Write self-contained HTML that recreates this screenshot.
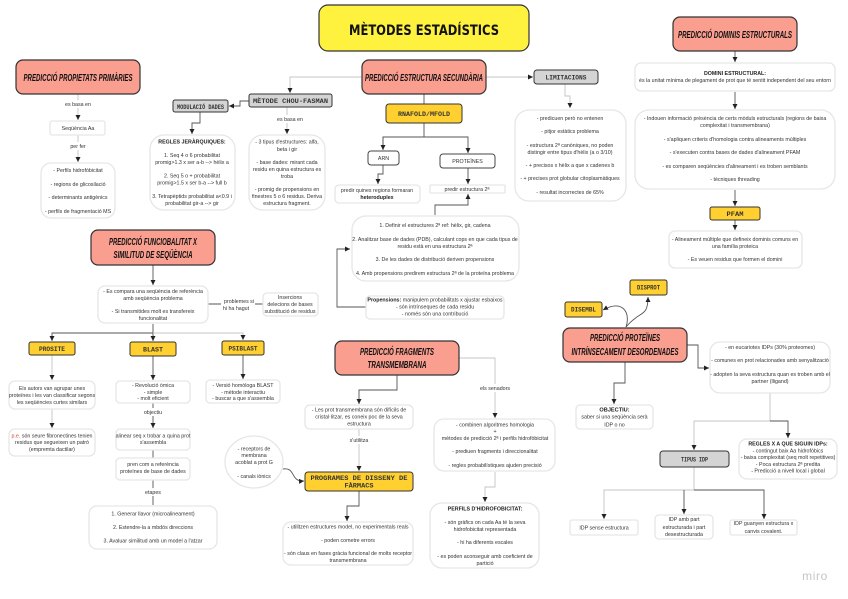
<!DOCTYPE html>
<html><head><meta charset="utf-8"><style>
html,body{margin:0;padding:0;background:#fff}
svg{display:block}
text{font-family:"Liberation Sans",sans-serif;font-size:5.3px;fill:#333;text-anchor:middle}
.b{font-weight:bold;fill:#222}
.h{font-family:"Liberation Sans Narrow","Liberation Sans",sans-serif;font-weight:bold;font-style:italic;font-size:10.5px;fill:#111}
.m{font-family:"Liberation Mono",monospace;font-weight:bold;font-size:6.5px;fill:#333}
.box{fill:#fff;stroke:#e6e6e6;stroke-width:1.3}
.p{fill:#fa9f90;stroke:#333;stroke-width:1.2}
.y{fill:#ffd02f;stroke:#333;stroke-width:1}
.g{fill:#d4d4d4;stroke:#333;stroke-width:1}
.w{fill:#fff;stroke:#444;stroke-width:1}
.l{fill:none;stroke:#555;stroke-width:.9}
.c{fill:none;stroke:#c4c4c4;stroke-width:.9}
.lb{fill:#fff;stroke:none}
</style></head><body>
<svg width="848" height="599" viewBox="0 0 848 599" xmlns="http://www.w3.org/2000/svg">
<defs><marker id="a" markerWidth="6" markerHeight="6" refX="5" refY="2.5" orient="auto" markerUnits="userSpaceOnUse"><path d="M0 0L5 2.5L0 5z" fill="#222"/></marker></defs>

<g marker-end="url(#a)">
<path class="c" d="M78 94V120" marker-end="url(#a)"/>
<path class="c" d="M78 135V162" marker-end="url(#a)"/>
<path class="c" d="M362 77H290V93" marker-end="url(#a)"/>
<path class="l" d="M249 101H240V106H229" marker-end="url(#a)"/>
<path class="l" d="M200 112V123H192V134" marker-end="url(#a)"/>
<path class="c" d="M287 107V134" marker-end="url(#a)"/>
<path class="c" d="M486 77H533" marker-end="url(#a)"/>
<path class="c" d="M565 84V96H570V108" marker-end="url(#a)"/>
<path class="l" d="M383 150V137H468V153" marker-start="none" marker-end="url(#a)"/>
<path class="l" d="M383 137V150" marker-end="url(#a)"/>
<path class="l" d="M383 165V174H378V184" marker-end="url(#a)"/>
<path class="l" d="M468 168V184" marker-end="url(#a)"/>
<path class="l" d="M435 215V205H468V194" marker-end="url(#a)"/>
<path class="l" d="M366 307H337V249H350" marker-end="url(#a)"/>
<path class="l" d="M735 51V62" marker-end="url(#a)"/>
<path class="l" d="M735 92V109" marker-end="url(#a)"/>
<path class="l" d="M735 190V206" marker-end="url(#a)"/>
<path class="l" d="M735 220V230" marker-end="url(#a)"/>
<path class="l" d="M153 265V285" marker-end="url(#a)"/>
<path class="l" d="M153 324V341" marker-end="url(#a)"/>
<path class="l" d="M153 333H52V341" marker-end="url(#a)"/>
<path class="c" d="M153 333H243V340" marker-end="url(#a)"/>
<path class="c" d="M52 355V380" marker-end="url(#a)"/>
<path class="l" d="M153 356V380" marker-end="url(#a)"/>
<path class="l" d="M243 355V379" marker-end="url(#a)"/>
<path class="c" d="M52 409V428" marker-end="url(#a)"/>
<path class="l" d="M153 403V428" marker-end="url(#a)"/>
<path class="l" d="M397 375V390H359V404" marker-end="url(#a)"/>
<path class="c" d="M459 358H495V418" marker-end="url(#a)"/>
<path class="c" d="M359 429V471" marker-end="url(#a)"/>
<path class="l" d="M283 469C296 467 290 482 304 481" marker-end="url(#a)"/>
<path class="l" d="M359 491V506H347V521" marker-end="url(#a)"/>
<path class="c" d="M495 472V487H485V502" marker-end="url(#a)"/>
<path class="l" d="M626 327C631 312 622 299 603 310" marker-end="url(#a)"/>
<path class="l" d="M626 327C640 310 648 318 648 297" marker-end="url(#a)"/>
<path class="l" d="M687 345H698V368H709" marker-end="url(#a)"/>
<path class="l" d="M625 362V383H614V404" marker-end="url(#a)"/>
<path class="c" d="M770 393V421H694V450" marker-end="url(#a)"/>
<path class="l" d="M770 421H788V438" marker-end="url(#a)"/>
<path class="c" d="M694 467V490H604V519" marker-end="url(#a)"/>
<path class="l" d="M694 490H764V519" marker-end="url(#a)"/>
<path class="l" d="M684 490V514" marker-end="url(#a)"/>
</g>
<path class="l" stroke-width="1.2" d="M424 94V104M424 123V137"/>
<path class="l" d="M208 304H263M153 450V458M153 480V505"/>

<!-- title -->
<rect x="319" y="5" width="210" height="46" rx="9" fill="#fff23f" stroke="#333" stroke-width="1.2"/>
<text x="424" y="35" style="font-family:'DejaVu Sans',sans-serif;font-weight:bold;font-size:14px;fill:#111" textLength="150" lengthAdjust="spacingAndGlyphs">MÈTODES ESTADÍSTICS</text>

<!-- pink -->
<rect class="p" x="16" y="60" width="124" height="34" rx="7"/>
<text class="h" x="78" y="81" textLength="109" lengthAdjust="spacingAndGlyphs">PREDICCIÓ PROPIETATS PRIMÀRIES</text>
<rect class="p" x="362" y="60" width="124" height="34" rx="7"/>
<text class="h" x="424" y="81" textLength="118" lengthAdjust="spacingAndGlyphs">PREDICCIÓ ESTRUCTURA SECUNDÀRIA</text>
<rect class="p" x="673" y="17" width="124" height="34" rx="7"/>
<text class="h" x="735" y="38" textLength="114" lengthAdjust="spacingAndGlyphs">PREDICCIÓ DOMINIS ESTRUCTURALS</text>
<rect class="p" x="91" y="230" width="124" height="35" rx="7"/>
<text class="h" x="153" y="245" textLength="88" lengthAdjust="spacingAndGlyphs">PREDICCIÓ FUNCIOBALITAT X</text>
<text class="h" x="153" y="258" textLength="79" lengthAdjust="spacingAndGlyphs">SIMILITUD DE SEQÜÈNCIA</text>
<rect class="p" x="335" y="341" width="124" height="34" rx="7"/>
<text class="h" x="397" y="355" textLength="74" lengthAdjust="spacingAndGlyphs">PREDICCIÓ FRAGMENTS</text>
<text class="h" x="397" y="368" textLength="59" lengthAdjust="spacingAndGlyphs">TRANSMEMBRANA</text>
<rect class="p" x="563" y="328" width="124" height="34" rx="7"/>
<text class="h" x="625" y="341" textLength="70" lengthAdjust="spacingAndGlyphs">PREDICCIÓ PROTEÏNES</text>
<text class="h" x="625" y="355" textLength="107" lengthAdjust="spacingAndGlyphs">INTRÍNSECAMENT DESORDENADES</text>

<!-- gray / yellow / outlined -->
<rect class="g" x="173" y="100" width="55" height="12" rx="2"/><text class="m" x="200.500" y="109" textLength="47" lengthAdjust="spacingAndGlyphs">MODULACIÓ DADES</text>
<rect class="g" x="249" y="94" width="83" height="13" rx="2"/><text class="m" x="290.500" y="103" textLength="75" lengthAdjust="spacingAndGlyphs">MÈTODE CHOU-FASMAN</text>
<rect class="g" x="534" y="70" width="64" height="14" rx="3"/><text class="m" x="566" y="79.500" textLength="41" lengthAdjust="spacingAndGlyphs">LIMITACIONS</text>
<rect class="g" x="660" y="451" width="69" height="16" rx="3"/><text class="m" x="694.500" y="461.500" textLength="27" lengthAdjust="spacingAndGlyphs">TIPUS IDP</text>
<rect class="y" x="386" y="104" width="76" height="19" rx="3"/><text class="m" x="424" y="116" textLength="52" lengthAdjust="spacingAndGlyphs">RNAFOLD/MFOLD</text>
<rect class="y" x="710" y="207" width="50" height="13" rx="2"/><text class="m" x="735" y="216" textLength="17" lengthAdjust="spacingAndGlyphs">PFAM</text>
<rect class="y" x="29" y="342" width="46" height="13" rx="2"/><text class="m" x="52" y="351" textLength="26" lengthAdjust="spacingAndGlyphs">PROSITE</text>
<rect class="y" x="130" y="342" width="46" height="14" rx="2"/><text class="m" x="153" y="351.500" textLength="20" lengthAdjust="spacingAndGlyphs">BLAST</text>
<rect class="y" x="222" y="341" width="42" height="14" rx="2"/><text class="m" x="243" y="350.500" textLength="29" lengthAdjust="spacingAndGlyphs">PSIBLAST</text>
<rect class="y" x="305" y="472" width="108" height="19" rx="3"/>
<text class="m" x="359" y="480" textLength="97" lengthAdjust="spacingAndGlyphs">PROGRAMES DE DISSENY DE</text>
<text class="m" x="359" y="487.500" textLength="29" lengthAdjust="spacingAndGlyphs">FÀRMACS</text>
<rect class="y" x="565" y="302" width="37" height="15" rx="2"/><text class="m" x="583.500" y="311.500" textLength="25" lengthAdjust="spacingAndGlyphs">DISEMBL</text>
<rect class="y" x="630" y="280" width="37" height="15" rx="2"/><text class="m" x="648.500" y="289.500" textLength="23" lengthAdjust="spacingAndGlyphs">DISPROT</text>
<rect class="w" x="368" y="151" width="31" height="14" rx="3"/><text x="383.500" y="160">ARN</text>
<rect class="w" x="440" y="154" width="55" height="14" rx="3"/><text x="467.500" y="163">PROTEÏNES</text>

<!-- text boxes -->
<rect class="box" x="50" y="121" width="55" height="14" rx="2"/>
<rect class="box" x="41" y="163" width="74" height="55" rx="10"/>
<rect class="box" x="150" y="135" width="85" height="75" rx="14"/>
<rect class="box" x="249" y="135" width="76" height="75" rx="14"/>
<rect class="box" x="335" y="185" width="85" height="18" rx="4"/>
<rect class="box" x="430" y="185" width="75" height="8" rx="1"/>
<rect class="box" x="515" y="110" width="111" height="91" rx="14"/>
<rect class="box" x="635" y="63" width="200" height="28" rx="6"/>
<rect class="box" x="635" y="110" width="200" height="79" rx="14"/>
<rect class="box" x="669" y="231" width="133" height="37" rx="6"/>
<rect class="box" x="352" y="216" width="167" height="65" rx="14"/>
<rect class="box" x="366" y="296" width="138" height="23" rx="4"/>
<rect class="box" x="98" y="286" width="110" height="37" rx="7"/>
<rect class="box" x="263" y="293" width="55" height="23" rx="4"/>
<rect class="box" x="9" y="381" width="86" height="28" rx="6"/>
<rect class="box" x="116" y="381" width="74" height="22" rx="4"/>
<rect class="box" x="206" y="380" width="74" height="23" rx="4"/>
<rect class="box" x="9" y="429" width="86" height="27" rx="6"/>
<rect class="box" x="116" y="429" width="74" height="21" rx="4"/>
<rect class="box" x="116" y="458" width="74" height="22" rx="4"/>
<rect class="box" x="89" y="506" width="128" height="43" rx="8"/>
<ellipse class="box" cx="254" cy="462" rx="29" ry="26"/>
<rect class="box" x="305" y="405" width="108" height="24" rx="5"/>
<rect class="box" x="283" y="522" width="130" height="43" rx="8"/>
<rect class="box" x="434" y="419" width="121" height="52" rx="10"/>
<rect class="box" x="430" y="503" width="109" height="65" rx="12"/>
<rect class="box" x="576" y="405" width="77" height="24" rx="4"/>
<rect class="box" x="710" y="342" width="120" height="51" rx="10"/>
<rect class="box" x="739" y="439" width="98" height="40" rx="8"/>
<rect class="box" x="570" y="520" width="68" height="15" rx="2"/>
<rect class="box" x="655" y="515" width="58" height="24" rx="4"/>
<rect class="box" x="730" y="520" width="67" height="15" rx="2"/>

<!-- connector labels -->
<rect class="lb" x="62" y="100" width="32" height="8"/><text x="78" y="106">es basa en</text>
<rect class="lb" x="66" y="142" width="24" height="8"/><text x="78" y="148">per fer</text>
<rect class="lb" x="274" y="115" width="32" height="8"/><text x="290" y="121">es basa en</text>
<rect class="lb" x="221" y="297" width="34" height="15"/><text x="239" y="303">problemes si</text><text x="236" y="310">hi ha hagut</text>
<rect class="lb" x="140" y="408" width="26" height="8"/><text x="153" y="414">objectiu</text>
<rect class="lb" x="142" y="488" width="22" height="8"/><text x="153" y="494">etapes</text>
<rect class="lb" x="347" y="436" width="24" height="8"/><text x="359" y="442">s'utilitza</text>
<rect class="lb" x="478" y="384" width="34" height="8"/><text x="495" y="390">els senadors</text>

<!-- body text -->
<text x="78" y="130">Seqüència Aa</text>
<text x="78" y="172">- Perfils hidrofòbicitat</text>
<text x="78" y="186">- regions de glicosilació</text>
<text x="78" y="199">- determinants antigènics</text>
<text x="78" y="213">- perfils de fragmentació MS</text>

<text class="b" x="192" y="143.500">REGLES JERÀRQUIQUES:</text>
<text x="192" y="157">1. Seq 4 o 6 probabilitat</text>
<text x="192" y="164">promig&gt;1.3 x ser a-b --&gt; hèlix a</text>
<text x="192" y="177.500">2. Seq 5 o + probabilitat</text>
<text x="192" y="184.500">promig&gt;1.5 x ser b-a --&gt; full b</text>
<text x="192" y="198">3. Tetrapèptids probabilitat a&lt;0.9 i</text>
<text x="192" y="205">probabilitat gir-a --&gt; gir</text>

<text x="287" y="143.500">- 3 tipus d'estructures: alfa,</text>
<text x="287" y="151">beta i gir</text>
<text x="287" y="164">- base dades: mirant cada</text>
<text x="287" y="171">residu en quina estructura es</text>
<text x="287" y="178">troba</text>
<text x="287" y="191">- promig de propensions en</text>
<text x="287" y="198">finestres 5 o 6 residus. Deriva</text>
<text x="287" y="205">estructura fragment.</text>

<text x="377" y="192">predir quines regions formaran</text>
<text class="b" x="377" y="199">heteroduplex</text>
<text x="467" y="191">predir estructura 2ª</text>

<text x="570" y="120">- predicuen però no entenen</text>
<text x="570" y="133">- pitjor estàtics problema</text>
<text x="570" y="147">- estructura 2ª canòniques, no poden</text>
<text x="570" y="154">distingir entre tipus d'hèlix (a o 3/10)</text>
<text x="570" y="167">- + precisos x hèlix a que x cadenes b</text>
<text x="570" y="180">- + precises prot globular citoplasmàtiques</text>
<text x="570" y="194">- resultat incorrectes de 65%</text>

<text class="b" x="735" y="75">DOMINI ESTRUCTURAL:</text>
<text x="735" y="82">és la unitat mínima de plegament de prot que té sentit independent del seu entorn</text>
<text x="735" y="120">- Indouen informació prèsència de certs mòduls estructurals (regions de baixa</text>
<text x="735" y="127">complexitat i transmembrana)</text>
<text x="735" y="141">- s'apliquen criteris d'homologia contra alineaments múltiples</text>
<text x="735" y="154">- s'executen contra bases de dades d'alineament PFAM</text>
<text x="735" y="168">- es comparen seqüències d'alineament i es troben semblants</text>
<text x="735" y="181">- tècniques threading</text>
<text x="735" y="241">- Alineament múltiple que defineix dominis comuns en</text>
<text x="735" y="248">una família proteica</text>
<text x="735" y="261">- Es veuen residus que formen el domini</text>

<text x="435" y="227">1. Definir el estructures 2ª ref: hèlix, gir, cadena</text>
<text x="435" y="241">2. Analitzar base de dades (PDB), calculant cops en que cada tipus de</text>
<text x="435" y="248">residu està en una estructura 2ª</text>
<text x="435" y="261">3. De les dades de distribució deriven propensions</text>
<text x="435" y="275">4. Amb propensions predirem estructura 2ª de la proteïna problema</text>
<text x="435" y="301.500"><tspan class="b">Propensions:</tspan> manipulem probabilitats x ajustar esbaixos</text>
<text x="435" y="308.500">- són intrínseques de cada residu</text>
<text x="435" y="315.500">- només són una contribució</text>

<text x="153" y="293">- Es compara una seqüència de referència</text>
<text x="153" y="300">amb seqüència problema</text>
<text x="153" y="313">- Si transmitides molt es transfereix</text>
<text x="153" y="320">funcionalitat</text>
<text x="290" y="299">Insercions</text>
<text x="290" y="306">delecions de bases</text>
<text x="290" y="313">substitució de residus</text>

<text x="52" y="390">Els autors van agrupar unes</text>
<text x="52" y="397">proteïnes i les van classificar segons</text>
<text x="52" y="404">les seqüències curtes similars</text>
<text x="153" y="387">- Revolució òmica</text>
<text x="153" y="394">- simple</text>
<text x="153" y="400">- molt eficient</text>
<text x="243" y="387">- Versió homòloga BLAST</text>
<text x="243" y="394">- mètode interactiu</text>
<text x="243" y="400">- buscar a que s'assembla</text>
<text x="52" y="437.500"><tspan fill="#d9432f">p.e.</tspan> són seure fibronectines tenien</text>
<text x="52" y="444">residus que segueixen un patró</text>
<text x="52" y="451">(empremta dactilar)</text>
<text x="153" y="437.500">alinear seq x trobar a quina prot</text>
<text x="153" y="444">s'assembla</text>
<text x="153" y="466">pren com a referència</text>
<text x="153" y="473">proteïnes de base de dades</text>
<text x="153" y="515.500">1. Generar llavor (microalineament)</text>
<text x="153" y="529">2. Estendre-la a mbdós direccions</text>
<text x="153" y="542.500">3. Avaluar similitud amb un model a l'atzar</text>

<text x="254" y="450.500">- receptors de</text>
<text x="254" y="457">membrana</text>
<text x="254" y="464">acoblat a prot G</text>
<text x="254" y="478">- canals iònics</text>

<text x="359" y="411.500">- Les prot transmembrana són difícils de</text>
<text x="359" y="418.500">cristal·litzar, es coneix poc de la seva</text>
<text x="359" y="425.500">estructura</text>
<text x="348" y="528.500">- utilitzen estructures model, no experimentals reals</text>
<text x="348" y="542">- poden cometre errors</text>
<text x="348" y="555">- són claus en fases gràcia funcional de molts receptor</text>
<text x="348" y="562">transmembrana</text>

<text x="495" y="426.500">- combinen algoritmes homologia</text>
<text x="495" y="433">+</text>
<text x="495" y="440">mètodes de predicció 2ª i perfils hidrofòbicitat</text>
<text x="495" y="453">- prediuen fragments i direccionalitat</text>
<text x="495" y="467">- regles probabilístiques ajuden precisió</text>

<text class="b" x="485" y="510.500">PERFILS D'HIDROFOBICITAT:</text>
<text x="485" y="524">- són gràfics on cada Aa té la seva</text>
<text x="485" y="531">hidrofobicitat representada</text>
<text x="485" y="544">- hi ha diferents escales</text>
<text x="485" y="558">- es poden aconseguir amb coeficient de</text>
<text x="485" y="565">partició</text>

<text class="b" x="614.500" y="411.500" style="font-size:5.6px">OBJECTIU:</text>
<text x="614.500" y="418.500">saber si una seqüència serà</text>
<text x="614.500" y="426.500">IDP o no</text>

<text x="770" y="349">- en eucariotes IDPs (30% proteomes)</text>
<text x="770" y="362">- comunes en prot relacionades amb senyalització</text>
<text x="770" y="376">- adopten la seva estructura quan es troben amb el</text>
<text x="770" y="383">partner (lligand)</text>

<text class="b" x="788" y="445.500">REGLES X A QUE SIGUIN IDPs:</text>
<text x="788" y="452.500">- contingut baix Aa hidrofòbics</text>
<text x="788" y="459">- baixa complexitat (seq molt repetitives)</text>
<text x="788" y="466">- Poca estructura 2ª predita</text>
<text x="788" y="472.500">- Predicció a nivell local i global</text>

<text x="604" y="529.500">IDP sense estructura</text>
<text x="684" y="521">IDP amb part</text>
<text x="684" y="529">estructurada i part</text>
<text x="684" y="536">desestructurada</text>
<text x="763.500" y="525">IDP guanyen estructura x</text>
<text x="763.500" y="533">canvis covalent.</text>

<text x="815" y="580" style="font-size:12px;fill:#c3c6ca;letter-spacing:.6px">miro</text>
</svg>
</body></html>
